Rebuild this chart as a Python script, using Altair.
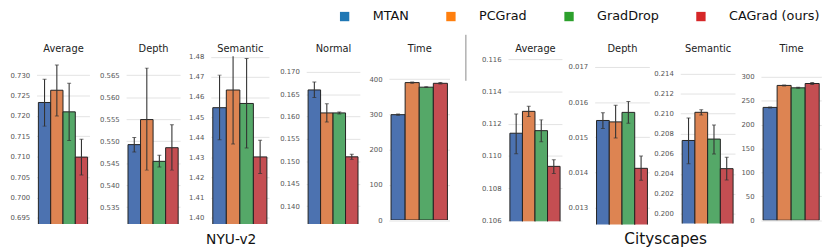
import altair as alt
import pandas as pd

methods = ["MTAN", "PCGrad", "GradDrop", "CAGrad (ours)"]
bar_colors = ["#4C72B0", "#DD8452", "#55A868", "#C44E52"]
legend_colors = ["#1f77b4", "#ff7f0e", "#2ca02c", "#d62728"]

# ---- NYU-v2 ----
nyu_avg = [0.7233, 0.7263, 0.7210, 0.7099]
nyu_avg_lo = [0.7175, 0.7200, 0.7140, 0.7055]
nyu_avg_hi = [0.7290, 0.7325, 0.7280, 0.7143]

nyu_depth = [0.5492, 0.5549, 0.5454, 0.5485]
nyu_depth_lo = [0.5475, 0.5434, 0.5441, 0.5434]
nyu_depth_hi = [0.5508, 0.5666, 0.5468, 0.5537]

nyu_sem = [1.4547, 1.4635, 1.4568, 1.4302]
nyu_sem_lo = [1.4387, 1.4366, 1.4346, 1.4219]
nyu_sem_hi = [1.4709, 1.4904, 1.4792, 1.4385]

nyu_normal = [0.16597, 0.16083, 0.16083, 0.15101]
nyu_normal_lo = [0.16428, 0.15878, 0.16060, 0.15044]
nyu_normal_hi = [0.16773, 0.16290, 0.16105, 0.15160]

nyu_time = [299, 390, 377, 388]
nyu_time_lo = [297, 388, 376, 386]
nyu_time_hi = [301, 392, 378, 390]

# ---- Cityscapes ----
city_avg = [0.11141, 0.11277, 0.11157, 0.10935]
city_avg_lo = [0.11014, 0.11245, 0.11088, 0.10890]
city_avg_hi = [0.11261, 0.11308, 0.11224, 0.10976]

city_depth = [0.01548, 0.01544, 0.01571, 0.01412]
city_depth_lo = [0.01525, 0.01498, 0.01540, 0.01378]
city_depth_hi = [0.01570, 0.01591, 0.01602, 0.01447]

city_sem = [0.20733, 0.21014, 0.20747, 0.20452]
city_sem_lo = [0.20501, 0.20988, 0.20598, 0.20338]
city_sem_hi = [0.20958, 0.21040, 0.20887, 0.20566]

city_time = [236, 282, 277, 286]
city_time_lo = [235, 281, 276, 284]
city_time_hi = [237, 283, 278, 288]

FONT = "DejaVu Sans"
one = pd.DataFrame({"k": [0]})


def panel(title, vals, lo, hi, domain, ticks, fmt, width, height,
          group_title=None):
    df = pd.DataFrame({"method": methods, "value": vals, "lo": lo, "hi": hi})
    base = alt.Chart(df)
    xaxis = alt.Axis(orient="top", title=title, labels=False, ticks=False,
                     domain=False, grid=False, titleX=width / 2, titleY=-4.7,
                     titleFontSize=10, titleFont=FONT,
                     titleFontWeight="normal", titleColor="#222",
                     titleBaseline="alphabetic", titleAlign="center")
    x = alt.X("method:N", sort=methods,
              scale=alt.Scale(paddingInner=0, paddingOuter=0.15), axis=xaxis)
    yscale = alt.Scale(domain=domain, zero=False, nice=False)
    ykw = dict(values=ticks, tickCount=len(ticks) + 2, format=fmt, grid=True,
               domain=False, ticks=False, labelFontSize=7, labelFont=FONT,
               labelColor="#555", labelPadding=7, labelOverlap=False,
               gridColor="#e2e2e2", gridWidth=1)
    if group_title:
        text, tx, ty, fs = group_title
        ykw.update(title=text, titleAngle=0, titleX=tx, titleY=ty,
                   titleFontSize=fs, titleFont=FONT, titleFontWeight="normal",
                   titleColor="#111", titleBaseline="middle",
                   titleAlign="center")
    else:
        ykw.update(title=None)
    yaxis = alt.Axis(**ykw)
    bars = base.mark_bar(stroke="#222", strokeWidth=1, clip=True).encode(
        x=x,
        y=alt.Y("value:Q", scale=yscale, axis=yaxis),
        fill=alt.Fill("method:N",
                      scale=alt.Scale(domain=methods, range=bar_colors),
                      legend=None),
    )
    err = base.mark_rule(color="#333", strokeWidth=1.1, clip=True).encode(
        x=x, y="lo:Q", y2="hi:Q")
    cap_lo = base.mark_tick(color="#333", size=4, thickness=1, clip=True).encode(
        x=x, y="lo:Q")
    cap_hi = base.mark_tick(color="#333", size=4, thickness=1, clip=True).encode(
        x=x, y="hi:Q")
    return alt.layer(bars, err, cap_lo, cap_hi).properties(
        width=width, height=height)


def spacer(width, y1=0, y2=1, x=0, visible=False):
    mark = alt.Chart(one).mark_rule(
        color="#888", strokeWidth=1, opacity=1 if visible else 0)
    return mark.encode(x=alt.value(x), y=alt.value(y1), y2=alt.value(y2)
                       ).properties(width=width, height=10)


# first cell: reserves the space on the left and carries the legend
legend_marks = alt.Chart(pd.DataFrame({"method": methods})).mark_square(
    opacity=0).encode(
    x=alt.value(5), y=alt.value(5),
    color=alt.Color(
        "method:N", sort=methods,
        scale=alt.Scale(domain=methods, range=legend_colors),
        legend=alt.Legend(
            orient="none", legendX=335.5, legendY=-47,
            direction="horizontal", columns=4, title=None,
            symbolType="square", symbolSize=90,
            symbolStrokeWidth=0, labelFontSize=13, labelFont=FONT,
            labelColor="#111", labelOffset=22, columnPadding=36,
            padding=0)),
)
first = alt.layer(
    alt.Chart(one).mark_rule(opacity=0).encode(
        x=alt.value(0), y=alt.value(-47), y2=alt.value(0)),
    legend_marks,
).properties(width=28.4, height=10)

cells = [
    first,
    panel("Average", nyu_avg, nyu_avg_lo, nyu_avg_hi, [0.6935, 0.73466],
          [0.695, 0.700, 0.705, 0.710, 0.715, 0.720, 0.725, 0.730], ".3f",
          53.75, 170.5),
    spacer(36.25),
    panel("Depth", nyu_depth, nyu_depth_lo, nyu_depth_hi, [0.53115, 0.56932],
          [0.535, 0.540, 0.545, 0.550, 0.555, 0.560, 0.565], ".3f",
          54.8, 170.5),
    spacer(31),
    panel("Semantic", nyu_sem, nyu_sem_lo, nyu_sem_hi, [1.39682, 1.48034],
          [1.40, 1.41, 1.42, 1.43, 1.44, 1.45, 1.46, 1.47, 1.48], ".2f",
          59.1, 170.5, group_title=("NYU-v2", 20.3, 186.7, 14)),
    spacer(36.1),
    panel("Normal", nyu_normal, nyu_normal_lo, nyu_normal_hi,
          [0.13599, 0.17352],
          [0.140, 0.145, 0.150, 0.155, 0.160, 0.165, 0.170], ".3f",
          54.5, 170.5),
    spacer(28.6),
    panel("Time", nyu_time, nyu_time_lo, nyu_time_hi, [0, 465],
          [0, 100, 200, 300, 400], "d", 61.6, 166.5),
    spacer(58.3, y1=-21.7, y2=25, x=16.2, visible=True),
    panel("Average", city_avg, city_avg_lo, city_avg_hi, [0.10594, 0.1162],
          [0.106, 0.108, 0.110, 0.112, 0.114, 0.116], ".3f",
          54.8, 167.7),
    spacer(32.9),
    panel("Depth", city_depth, city_depth_lo, city_depth_hi,
          [0.012524, 0.017308], [0.013, 0.014, 0.015, 0.016, 0.017], ".3f",
          55.6, 171, group_title=("Cityscapes", 71.6, 185.7, 15.5)),
    spacer(30.4),
    panel("Semantic", city_sem, city_sem_lo, city_sem_hi, [0.19905, 0.21574],
          [0.200, 0.202, 0.204, 0.206, 0.208, 0.210, 0.212, 0.214], ".3f",
          55.6, 170),
    spacer(25.5),
    panel("Time", city_time, city_time_lo, city_time_hi, [0, 343.2],
          [0, 50, 100, 150, 200, 250, 300], "d", 61.3, 166.7),
]

chart = alt.hconcat(*cells, spacing=0, bounds="flush").properties(
    padding=0).resolve_scale(color="independent").configure_view(stroke=None)

chart.save("out.html", embed_options={"renderer": "svg", "actions": False})
